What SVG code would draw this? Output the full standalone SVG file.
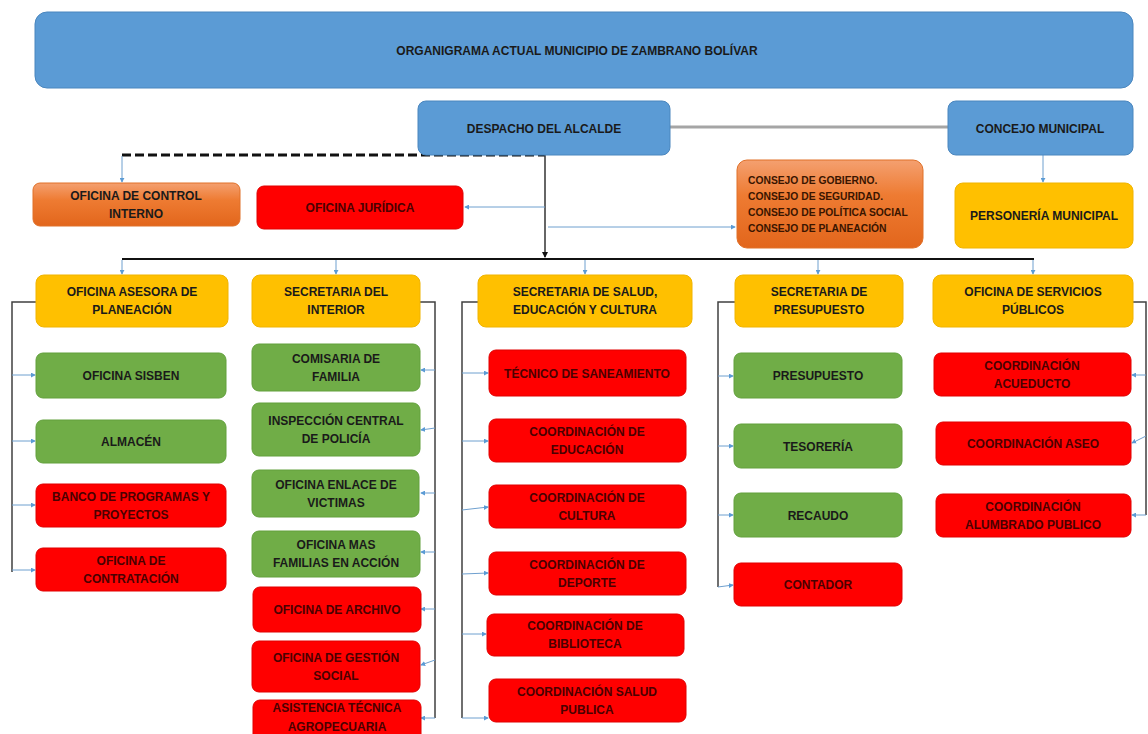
<svg xmlns="http://www.w3.org/2000/svg" width="1148" height="734" viewBox="0 0 1148 734">
<style>
.t{font-family:"Liberation Sans",Arial,sans-serif;font-weight:bold;font-size:12px;text-anchor:middle;fill:#1a1a1a}
.tr{font-family:"Liberation Sans",Arial,sans-serif;font-weight:bold;font-size:12px;text-anchor:middle;fill:#4a0000}
.tl{font-family:"Liberation Sans",Arial,sans-serif;font-weight:bold;font-size:10.3px;fill:#3a1500}
.blue{fill:#5B9BD5;stroke:#4A86BE;stroke-width:1}
.yel{fill:#FFC000;stroke:#F0B400;stroke-width:1}
.grn{fill:#70AD47;stroke:#62A03C;stroke-width:1}
.red{fill:#FF0000;stroke:#E00000;stroke-width:1}
.org{fill:url(#og);stroke:#E07028;stroke-width:1}
.br{fill:none;stroke:#404040;stroke-width:1.5}
.ln{fill:none;stroke:#6FA0CF;stroke-width:1}
</style>
<defs>
<linearGradient id="og" x1="0" y1="0" x2="0" y2="1">
<stop offset="0" stop-color="#F4A070"/>
<stop offset="0.4" stop-color="#EE7B32"/>
<stop offset="1" stop-color="#E2661C"/>
</linearGradient>
<marker id="a" viewBox="0 0 6 6" refX="5" refY="3" markerWidth="5" markerHeight="5" orient="auto">
<path d="M0,0 L6,3 L0,6 z" fill="#5B9BD5"/>
</marker>
<marker id="k" viewBox="0 0 6 6" refX="5" refY="3" markerWidth="4" markerHeight="4" orient="auto">
<path d="M0,0 L6,3 L0,6 z" fill="#111"/>
</marker>
</defs>
<rect width="1148" height="734" fill="#fff"/>

<g id="connectors">
<line x1="670" y1="127" x2="948" y2="127" stroke="#A5A5A5" stroke-width="3"/>
<line x1="122" y1="155" x2="545" y2="155" stroke="#111" stroke-width="3" stroke-dasharray="9,4"/>
<line class="ln" x1="122" y1="156" x2="122" y2="182" marker-end="url(#a)"/>
<line x1="545" y1="155" x2="545" y2="257" stroke="#333" stroke-width="1.5" marker-end="url(#k)"/>
<line class="ln" x1="545" y1="207" x2="465" y2="207" marker-end="url(#a)"/>
<line class="ln" x1="548" y1="227" x2="735" y2="227" marker-end="url(#a)"/>
<line class="ln" x1="1043" y1="155" x2="1043" y2="182" marker-end="url(#a)"/>
<line x1="122" y1="259" x2="1034" y2="259" stroke="#111" stroke-width="2"/>
<line class="ln" x1="122" y1="260" x2="122" y2="274" marker-end="url(#a)"/>
<line class="ln" x1="336" y1="260" x2="336" y2="274" marker-end="url(#a)"/>
<line class="ln" x1="585" y1="260" x2="585" y2="274" marker-end="url(#a)"/>
<line class="ln" x1="818" y1="260" x2="818" y2="274" marker-end="url(#a)"/>
<line class="ln" x1="1033" y1="260" x2="1033" y2="274" marker-end="url(#a)"/>
<path class="br" d="M36,302 H12 V572"/>
<line class="ln" x1="12" y1="375" x2="35" y2="375" marker-end="url(#a)"/>
<line class="ln" x1="12" y1="441" x2="35" y2="441" marker-end="url(#a)"/>
<line class="ln" x1="12" y1="505" x2="35" y2="505" marker-end="url(#a)"/>
<line class="ln" x1="12" y1="570" x2="35" y2="570" marker-end="url(#a)"/>
<path class="br" d="M420,302 H435 V718"/>
<line class="ln" x1="435" y1="370" x2="421" y2="370" marker-end="url(#a)"/>
<line class="ln" x1="435" y1="428" x2="421" y2="430" marker-end="url(#a)"/>
<line class="ln" x1="435" y1="493" x2="421" y2="493" marker-end="url(#a)"/>
<line class="ln" x1="435" y1="552" x2="421" y2="552" marker-end="url(#a)"/>
<line class="ln" x1="435" y1="609" x2="421" y2="609" marker-end="url(#a)"/>
<line class="ln" x1="435" y1="660" x2="421" y2="665" marker-end="url(#a)"/>
<line class="ln" x1="435" y1="718" x2="421" y2="718" marker-end="url(#a)"/>
<path class="br" d="M478,302 H462 V718"/>
<line class="ln" x1="462" y1="373" x2="488" y2="373" marker-end="url(#a)"/>
<line class="ln" x1="462" y1="441" x2="488" y2="441" marker-end="url(#a)"/>
<line class="ln" x1="462" y1="510" x2="488" y2="507" marker-end="url(#a)"/>
<line class="ln" x1="462" y1="574" x2="488" y2="573" marker-end="url(#a)"/>
<line class="ln" x1="462" y1="634" x2="486" y2="634" marker-end="url(#a)"/>
<line class="ln" x1="462" y1="718" x2="488" y2="718" marker-end="url(#a)"/>
<path class="br" d="M735,302 H718 V587"/>
<line class="ln" x1="718" y1="376" x2="733" y2="376" marker-end="url(#a)"/>
<line class="ln" x1="718" y1="446" x2="733" y2="446" marker-end="url(#a)"/>
<line class="ln" x1="718" y1="515" x2="733" y2="515" marker-end="url(#a)"/>
<line class="ln" x1="718" y1="587" x2="733" y2="585" marker-end="url(#a)"/>
<path class="br" d="M1133,302 H1146 V515"/>
<line class="ln" x1="1146" y1="375" x2="1132" y2="375" marker-end="url(#a)"/>
<line class="ln" x1="1146" y1="436" x2="1132" y2="443" marker-end="url(#a)"/>
<line class="ln" x1="1146" y1="515" x2="1132" y2="515" marker-end="url(#a)"/>
</g>

<g id="titulo"><rect class="blue" x="35" y="12" width="1098" height="76" rx="12"/><text class="t" x="577" y="54.5" font-size="13">ORGANIGRAMA ACTUAL MUNICIPIO DE ZAMBRANO BOLÍVAR</text></g>
<g id="despacho"><rect class="blue" x="418" y="101" width="252" height="54" rx="8"/><text class="t" x="544" y="132.5">DESPACHO DEL ALCALDE</text></g>
<g id="concejo"><rect class="blue" x="948" y="101" width="185" height="54" rx="8"/><text class="t" x="1040" y="132.5">CONCEJO MUNICIPAL</text></g>
<g id="control"><rect class="org" x="33" y="183" width="207" height="43" rx="7"/><text class="t" x="136" y="199.5">OFICINA DE CONTROL</text><text class="t" x="136" y="217.5">INTERNO</text></g>
<g id="juridica"><rect class="red" x="257" y="186" width="206" height="43" rx="7"/><text class="tr" x="360" y="212">OFICINA JURÍDICA</text></g>
<g id="consejo"><rect class="org" x="737" y="160" width="186" height="88" rx="10"/>
<text class="tl" x="748" y="184">CONSEJO DE GOBIERNO.</text>
<text class="tl" x="748" y="200">CONSEJO DE SEGURIDAD.</text>
<text class="tl" x="748" y="216">CONSEJO DE POLÍTICA SOCIAL</text>
<text class="tl" x="748" y="232">CONSEJO DE PLANEACIÓN</text></g>
<g id="personeria"><rect class="yel" x="955" y="183" width="178" height="65" rx="8"/><text class="t" x="1044" y="220">PERSONERÍA MUNICIPAL</text></g>

<g id="asesora"><rect class="yel" x="36" y="275" width="192" height="52" rx="8"/><text class="t" x="132" y="296">OFICINA ASESORA DE</text><text class="t" x="132" y="314">PLANEACIÓN</text></g>
<g id="interior"><rect class="yel" x="252" y="275" width="168" height="52" rx="8"/><text class="t" x="336" y="296">SECRETARIA DEL</text><text class="t" x="336" y="314">INTERIOR</text></g>
<g id="salud"><rect class="yel" x="478" y="275" width="214" height="52" rx="8"/><text class="t" x="585" y="296">SECRETARIA DE SALUD,</text><text class="t" x="585" y="314">EDUCACIÓN Y CULTURA</text></g>
<g id="sec-presupuesto"><rect class="yel" x="735" y="275" width="168" height="52" rx="8"/><text class="t" x="819" y="296">SECRETARIA DE</text><text class="t" x="819" y="314">PRESUPUESTO</text></g>
<g id="servicios"><rect class="yel" x="933" y="275" width="200" height="52" rx="8"/><text class="t" x="1033" y="296">OFICINA DE SERVICIOS</text><text class="t" x="1033" y="314">PÚBLICOS</text></g>

<g id="sisben"><rect class="grn" x="36" y="353" width="190" height="45" rx="7"/><text class="t" x="131" y="380">OFICINA SISBEN</text></g>
<g id="almacen"><rect class="grn" x="36" y="420" width="190" height="43" rx="7"/><text class="t" x="131" y="446">ALMACÉN</text></g>
<g id="banco"><rect class="red" x="36" y="484" width="190" height="43" rx="7"/><text class="tr" x="131" y="500.5">BANCO DE PROGRAMAS Y</text><text class="tr" x="131" y="518.5">PROYECTOS</text></g>
<g id="contratacion"><rect class="red" x="36" y="548" width="190" height="43" rx="7"/><text class="tr" x="131" y="564.5">OFICINA DE</text><text class="tr" x="131" y="582.5">CONTRATACIÓN</text></g>

<g id="comisaria"><rect class="grn" x="252" y="344" width="168" height="47" rx="7"/><text class="t" x="336" y="362.5">COMISARIA DE</text><text class="t" x="336" y="380.5">FAMILIA</text></g>
<g id="inspeccion"><rect class="grn" x="252" y="403" width="168" height="53" rx="7"/><text class="t" x="336" y="424.5">INSPECCIÓN CENTRAL</text><text class="t" x="336" y="442.5">DE POLICÍA</text></g>
<g id="enlace"><rect class="grn" x="252" y="470" width="167" height="47" rx="7"/><text class="t" x="336" y="488.5">OFICINA ENLACE DE</text><text class="t" x="336" y="506.5">VICTIMAS</text></g>
<g id="familias"><rect class="grn" x="252" y="531" width="168" height="46" rx="7"/><text class="t" x="336" y="549">OFICINA MAS</text><text class="t" x="336" y="567">FAMILIAS EN ACCIÓN</text></g>
<g id="archivo"><rect class="red" x="253" y="587" width="168" height="45" rx="7"/><text class="tr" x="337" y="614">OFICINA DE ARCHIVO</text></g>
<g id="gestion"><rect class="red" x="252" y="641" width="168" height="51" rx="7"/><text class="tr" x="336" y="661.5">OFICINA DE GESTIÓN</text><text class="tr" x="336" y="679.5">SOCIAL</text></g>
<g id="asistencia"><rect class="red" x="253" y="700" width="168" height="44" rx="7"/><text class="tr" x="337" y="712">ASISTENCIA TÉCNICA</text><text class="tr" x="337" y="731">AGROPECUARIA</text></g>

<g id="tecnico"><rect class="red" x="489" y="350" width="197" height="46" rx="7"/><text class="tr" x="587" y="377.5">TÉCNICO DE SANEAMIENTO</text></g>
<g id="educacion"><rect class="red" x="489" y="419" width="197" height="43" rx="7"/><text class="tr" x="587" y="435.5">COORDINACIÓN DE</text><text class="tr" x="587" y="453.5">EDUCACIÓN</text></g>
<g id="cultura"><rect class="red" x="489" y="485" width="197" height="43" rx="7"/><text class="tr" x="587" y="501.5">COORDINACIÓN DE</text><text class="tr" x="587" y="519.5">CULTURA</text></g>
<g id="deporte"><rect class="red" x="489" y="552" width="197" height="43" rx="7"/><text class="tr" x="587" y="568.5">COORDINACIÓN DE</text><text class="tr" x="587" y="586.5">DEPORTE</text></g>
<g id="biblioteca"><rect class="red" x="487" y="614" width="197" height="42" rx="7"/><text class="tr" x="585" y="630">COORDINACIÓN DE</text><text class="tr" x="585" y="648">BIBLIOTECA</text></g>
<g id="saludpublica"><rect class="red" x="489" y="679" width="197" height="43" rx="7"/><text class="tr" x="587" y="695.5">COORDINACIÓN SALUD</text><text class="tr" x="587" y="713.5">PUBLICA</text></g>

<g id="presupuesto"><rect class="grn" x="734" y="353" width="168" height="45" rx="7"/><text class="t" x="818" y="380">PRESUPUESTO</text></g>
<g id="tesoreria"><rect class="grn" x="734" y="424" width="168" height="44" rx="7"/><text class="t" x="818" y="450.5">TESORERÍA</text></g>
<g id="recaudo"><rect class="grn" x="734" y="493" width="168" height="44" rx="7"/><text class="t" x="818" y="519.5">RECAUDO</text></g>
<g id="contador"><rect class="red" x="734" y="563" width="168" height="43" rx="7"/><text class="tr" x="818" y="589">CONTADOR</text></g>

<g id="acueducto"><rect class="red" x="934" y="353" width="197" height="43" rx="7"/><text class="tr" x="1032" y="369.5">COORDINACIÓN</text><text class="tr" x="1032" y="387.5">ACUEDUCTO</text></g>
<g id="aseo"><rect class="red" x="936" y="422" width="195" height="43" rx="7"/><text class="tr" x="1033" y="448">COORDINACIÓN ASEO</text></g>
<g id="alumbrado"><rect class="red" x="936" y="494" width="195" height="43" rx="7"/><text class="tr" x="1033" y="510.5">COORDINACIÓN</text><text class="tr" x="1033" y="528.5">ALUMBRADO PUBLICO</text></g>
</svg>
